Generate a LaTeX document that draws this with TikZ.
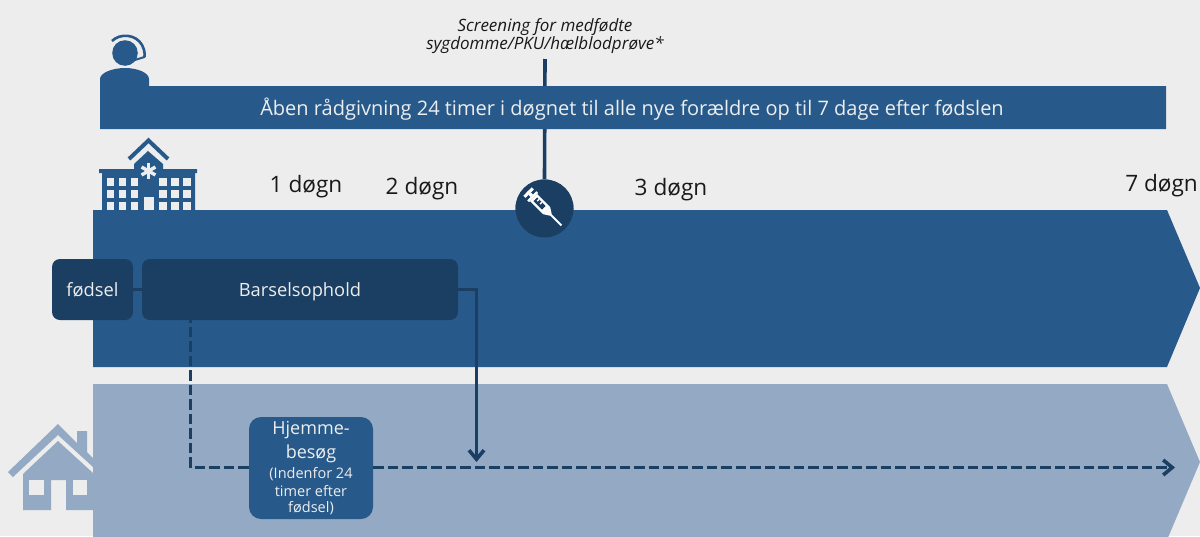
\documentclass[tikz,border=0pt]{standalone}
\usepackage{fontspec}
\setmainfont{Open Sans}
\usetikzlibrary{arrows.meta}
\definecolor{bg}{HTML}{EDEDED}
\definecolor{blue}{HTML}{275A8A}
\definecolor{navy}{HTML}{1B3F63}
\definecolor{pale}{HTML}{94AAC4}
\tikzset{
  box/.style={fill=navy,rounded corners=8pt,text=bg,align=center,inner sep=0pt,font=\fontsize{18.3}{22}\selectfont},
  onelinebox/.style={box,text height=14pt,text depth=0pt,minimum height=61pt},
  dag/.style={text=black!90,inner sep=0pt,font=\fontsize{22.6}{26}\selectfont},
  link/.style={draw=navy,line width=3.6pt},
  dashlink/.style={link,dash pattern=on 10.5pt off 4pt,dash phase=8pt},
  tip/.style={-{Straight Barb[length=9pt,width=15pt]}},
}
\newcommand{\bigline}{\fontsize{18}{21}\selectfont}
\newcommand{\smallline}{\fontsize{14.5}{16}\selectfont}
\begin{document}
\begin{tikzpicture}[x=1pt,y=-1pt]
\useasboundingbox (0,0) rectangle (1200,536);
\fill[bg] (0,0) rectangle (1200,536);
% screening
\node[inner sep=0pt,align=center,font=\fontsize{17}{18}\selectfont\itshape,text=black!90] (screen) at (545,36) {Screening for medfødte\\sygdomme/PKU/hælblodprøve*};
\node[circle,fill=navy,minimum size=58pt,inner sep=0pt] (vacc) at (544.5,208.5) {};
\coordinate (stemtop) at (545,59);
% bands
\fill[blue] (93,210) -- (1167,210) -- (1200,288) -- (1167,367) -- (93,367) -- cycle;
\fill[pale] (93,384) -- (1167,384) -- (1200,462) -- (1167,540) -- (93,540) -- cycle;
\draw[navy,line width=3.6pt] (stemtop) -- (vacc.north);
\node[circle,fill=navy,minimum size=58pt,inner sep=0pt] at (vacc) {};
% open-advice bar with person
\fill[blue] (100,129) -- (100,79) .. controls (100,73) and (112,68) .. (125,68) .. controls (138,68) and (149,73) .. (149,79) -- (149,86) -- (1166,86) -- (1166,129) -- cycle;
\node[text=bg,inner sep=0pt,font=\fontsize{20}{24}\selectfont] (raad) at (632,109.5) {Åben rådgivning 24 timer i døgnet til alle nye forældre op til 7 dage efter fødslen};
% headset
\fill[blue] (125,53) circle (12.8);
\draw[blue,line width=2.6pt] (112,41) .. controls (120,33) and (136,34) .. (142,45) .. controls (144,49) and (145,52) .. (144.5,57);
\draw[blue,line width=2pt,line cap=round] (144.5,57) -- (130,61.5);
\fill[blue] (130,61.5) circle (2.4);
% hospital
\fill[blue] (102,211) -- (102,173) -- (99,173) -- (99,169) -- (134,169) -- (134,164) -- (148,151) -- (163,164) -- (163,169) -- (197,169) -- (197,173) -- (195,173) -- (195,211) -- cycle;
\draw[blue,line width=4pt] (129,159) -- (148.5,140.5) -- (168,159);
\foreach \x in {106.7,118.7,130.7,159.3,171.3,183.3}{\foreach \y in {178.3,190.3,202.3}{\fill[bg] (\x,\y) rectangle ++(7.3,7.3);}}
\fill[bg] (144,197) rectangle (153.5,210);
\foreach \a in {90,150,210,270,330,30}{\draw[bg,line width=3.4pt] (148.5,171) -- ++(\a:8);}
% syringe
\begin{scope}[shift={(vacc)}]
\begin{scope}[rotate=-45]
 \fill[white] (-24,-1.5) rectangle (-21.5,1.5);
 \fill[white] (-24,-6) rectangle (-21,6);
 \fill[white] (-21,-1.6) rectangle (-18,1.6);
 \fill[white] (-18,-6.5) rectangle (-15.5,6.5);
 \fill[white] (-15.5,-5) rectangle (3,5);
 \fill[navy] (-13,-2.6) rectangle (-1,2.6);
 \fill[white] (-11,-2.6) rectangle (-9.6,0);
 \fill[white] (-7,-2.6) rectangle (-5.6,0);
 \fill[white] (3,-5) -- (9,-1.2) -- (9,1.2) -- (3,5) -- cycle;
 \fill[white] (9,-0.9) rectangle (24,0.9);
\end{scope}
\end{scope}
% house
\fill[pale] (8,472) -- (58,424) -- (77,443) -- (77,431) -- (87,431) -- (87,452) -- (93,458) -- (93,467) -- (58,435) -- (13,477) -- cycle;
\fill[pale] (23,474) -- (58,441) -- (93,473) -- (93,510) -- (66,510) -- (66,480) -- (51,480) -- (51,510) -- (23,510) -- cycle;
\fill[bg] (29,480) rectangle (44,495);
\fill[bg] (73,480) rectangle (87,495);
% day labels
\node[dag] (d1) at (306,187) {1 døgn};
\node[dag] (d2) at (422,189) {2 døgn};
\node[dag] (d3) at (671,190) {3 døgn};
\node[dag,anchor=east] (d7) at (1198,186) {7 døgn};
% boxes
\node[onelinebox,minimum width=81pt] (foed) at (92.5,289.5) {fødsel};
\node[onelinebox,minimum width=316pt] (bars) at (300,289.5) {Barselsophold};
\draw[link] (foed.east) -- (bars.west);
\coordinate (dashstart) at (190.5,320);
\coordinate (dashcorner) at (190.5,467.5);
\coordinate (dashend) at (1175,467.5);
\coordinate (drop) at (476.5,462);
\node[box,fill=blue,rounded corners=12pt,minimum width=124pt,minimum height=102pt,font=\smallline] (hjem) at (311,468) {\bigline Hjemme-\\[5pt]\bigline besøg\\[4pt]\smallline (Indenfor 24\\[2pt]\smallline timer efter\\\smallline fødsel)};
\draw[dashlink] (dashstart) -- (dashcorner) -- (hjem.west |- dashcorner);
\draw[dashlink,dash phase=0pt,tip] (hjem.east |- dashcorner) -- (dashend);
\draw[link,tip] (bars.east) -| (drop);
\end{tikzpicture}
\end{document}
